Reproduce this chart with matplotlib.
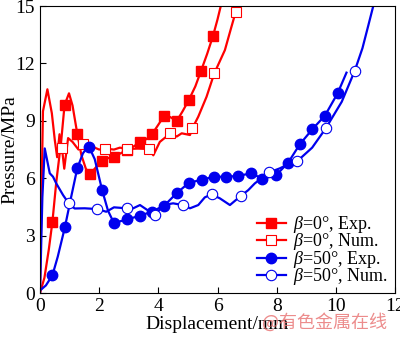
import matplotlib
matplotlib.use('Agg')
import matplotlib.pyplot as plt

# beta = 0 deg, experiment (line + markers)
red_exp_x = [0, 0.15, 0.3, 0.42, 0.55, 0.72, 0.83, 0.98, 1.1, 1.26, 1.4, 1.55, 1.69, 1.85,
             2.08, 2.3, 2.51, 2.72, 2.93, 3.15, 3.38, 3.6, 3.79, 4.0, 4.19, 4.4, 4.62,
             4.82, 5.03, 5.25, 5.44, 5.65, 5.85, 6.0, 6.11]
red_exp_y = [0, 0.8, 2.3, 3.73, 5.8, 8.0, 9.83, 10.44, 9.8, 8.33, 7.2, 6.5, 6.2, 6.5,
             6.92, 7.05, 7.13, 7.3, 7.47, 7.65, 7.88, 8.05, 8.31, 8.8, 9.25, 9.2, 8.99,
             9.5, 10.09, 10.8, 11.6, 12.5, 13.45, 14.3, 15.0]
red_exp_mx = [0.42, 0.83, 1.26, 1.69, 2.08, 2.51, 2.93, 3.38, 3.79, 4.19, 4.62, 5.03, 5.44, 5.85]
red_exp_my = [3.73, 9.83, 8.33, 6.2, 6.92, 7.13, 7.47, 7.88, 8.31, 9.25, 8.99, 10.09, 11.6, 13.45]

# beta = 0 deg, numerical
red_num_x = [0, 0.05, 0.1, 0.25, 0.4, 0.5, 0.58, 0.66, 0.74, 0.82, 0.95, 1.1, 1.3, 1.47,
             1.7, 2.0, 2.2, 2.5, 2.7, 2.95, 3.3, 3.68, 3.83, 4.05, 4.41, 4.62, 4.79,
             5.07, 5.15, 5.35, 5.63, 5.89, 6.25, 6.45, 6.61, 6.65]
red_num_y = [0, 5.0, 9.5, 10.65, 9.4, 8.0, 7.1, 8.3, 7.6, 6.5, 8.1, 7.9, 7.5, 7.77,
             7.7, 7.5, 7.55, 7.5, 7.6, 7.53, 7.55, 7.53, 7.2, 7.9, 8.35, 8.18, 8.35,
             8.26, 8.61, 9.22, 10.26, 11.48, 12.7, 13.8, 14.67, 14.95]
red_num_mx = [0.74, 1.47, 2.2, 2.95, 3.68, 4.41, 5.15, 5.89, 6.61]
red_num_my = [7.6, 7.77, 7.55, 7.53, 7.53, 8.35, 8.61, 11.48, 14.67]

# beta = 50 deg, experiment
blue_exp_x = [0.05, 0.2, 0.42, 0.6, 0.84, 1.05, 1.26, 1.45, 1.64, 1.85, 2.1, 2.3, 2.5,
              2.94, 3.38, 3.77, 4.2, 4.62, 5.03, 5.46, 5.88, 6.28, 6.7, 7.13, 7.52,
              7.99, 8.39, 8.78, 9.21, 9.63, 10.06, 10.36]
blue_exp_y = [0.2, 0.4, 0.93, 1.9, 3.43, 5.0, 6.52, 7.3, 7.7, 7.0, 5.38, 4.3, 3.66,
              3.85, 4.04, 4.25, 4.57, 5.22, 5.76, 5.92, 6.08, 6.08, 6.12, 6.26, 5.98,
              6.17, 6.82, 7.77, 8.57, 9.27, 10.44, 11.52]
blue_exp_mx = [0.42, 0.84, 1.26, 1.64, 2.1, 2.5, 2.94, 3.38, 3.77, 4.2, 4.62, 5.03, 5.46,
               5.88, 6.28, 6.7, 7.13, 7.52, 7.99, 8.39, 8.78, 9.21, 9.63, 10.06]
blue_exp_my = [0.93, 3.43, 6.52, 7.61, 5.38, 3.66, 3.85, 4.04, 4.25, 4.57, 5.22, 5.76, 5.92,
               6.08, 6.08, 6.12, 6.26, 5.98, 6.17, 6.82, 7.77, 8.57, 9.27, 10.44]

# beta = 50 deg, numerical
blue_num_x = [0, 0.08, 0.16, 0.33, 0.44, 0.55, 0.78, 0.97, 1.17, 1.51, 1.94, 2.24, 2.5,
              2.93, 3.15, 3.38, 3.6, 3.89, 4.17, 4.5, 4.82, 5.07, 5.35, 5.57, 5.8, 6.08,
              6.42, 6.78, 7.04, 7.26, 7.55, 7.75, 8.11, 8.33, 8.7, 9.2, 9.66, 10.2,
              10.64, 10.9, 11.1, 11.26]
blue_num_y = [0, 5.0, 7.56, 6.26, 6.08, 5.73, 5.12, 4.69, 4.42, 4.43, 4.39, 4.25, 4.48,
              4.43, 4.43, 4.6, 4.37, 4.08, 4.6, 4.69, 4.6, 4.43, 4.6, 5.0, 5.16, 4.95,
              4.6, 5.07, 5.38, 5.73, 6.08, 6.31, 6.52, 6.69, 6.9, 7.6, 8.61, 10.0,
              11.62, 12.8, 14.0, 14.97]
blue_num_mx = [0.97, 1.94, 2.93, 3.89, 4.82, 5.8, 6.78, 7.75, 8.7, 9.66, 10.64]
blue_num_my = [4.69, 4.39, 4.43, 4.08, 4.6, 5.16, 5.07, 6.31, 6.9, 8.61, 11.62]

labels = ['$\\beta$=0°, Exp.', '$\\beta$=0°, Num.', '$\\beta$=50°, Exp.', '$\\beta$=50°, Num.']

plt.rcParams['font.family'] = ['Liberation Serif', 'DejaVu Serif']
plt.rcParams['mathtext.fontset'] = 'custom'
plt.rcParams['mathtext.it'] = 'Liberation Serif:italic'
plt.rcParams['mathtext.rm'] = 'Liberation Serif'

fig = plt.figure(figsize=(4, 3.38), dpi=100)
ax = fig.add_axes([0.1, 0.133, 0.8875, 0.849])

red = '#ff0000'
blue = '#0000ee'
lw = 1.6
ms = 7

ax.plot(red_exp_x, red_exp_y, color=red, lw=lw)
ax.plot(red_exp_mx, red_exp_my, ls='none', marker='s', ms=ms, color=red)
ax.plot(red_num_x, red_num_y, color=red, lw=lw)
ax.plot(red_num_mx, red_num_my, ls='none', marker='s', ms=ms, mfc='white', mec=red, mew=0.8)
ax.plot(blue_exp_x, blue_exp_y, color=blue, lw=lw)
ax.plot(blue_exp_mx, blue_exp_my, ls='none', marker='o', ms=ms + 0.5, color=blue)
ax.plot(blue_num_x, blue_num_y, color=blue, lw=lw)
ax.plot(blue_num_mx, blue_num_my, ls='none', marker='o', ms=ms + 0.5, mfc='white', mec=blue, mew=0.8)

# legend proxies
h1, = ax.plot([], [], color=red, lw=lw, marker='s', ms=ms)
h2, = ax.plot([], [], color=red, lw=lw, marker='s', ms=ms, mfc='white', mec=red, mew=0.8)
h3, = ax.plot([], [], color=blue, lw=lw, marker='o', ms=ms + 0.5)
h4, = ax.plot([], [], color=blue, lw=lw, marker='o', ms=ms + 0.5, mfc='white', mec=blue, mew=0.8)
ax.legend([h1, h2, h3, h4], labels, loc='lower right', bbox_to_anchor=(1.0, -0.005),
          frameon=False, fontsize=13, handlelength=1.6, handletextpad=0.4,
          labelspacing=-0.2, borderaxespad=0.0)

ax.set_xlim(0, 12)
ax.set_ylim(0, 15)
ax.set_xticks([0, 2, 4, 6, 8, 10, 12])
ax.set_yticks([0, 3, 6, 9, 12, 15])
ax.tick_params(direction='in', length=4, labelsize=14, top=False, right=False)
ax.set_xlabel('Displacement/mm', fontsize=14, labelpad=1)
ax.set_ylabel('Pressure/MPa', fontsize=14)
ax.yaxis.set_label_coords(-0.062, 0.5)

fig.text(0.655, 0.045, '@有色金属在线', color='#e87070', alpha=0.8, fontsize=13,
         family=['Noto Sans CJK SC', 'DejaVu Sans'], va='center')

fig.savefig('out.png', dpi=100)
